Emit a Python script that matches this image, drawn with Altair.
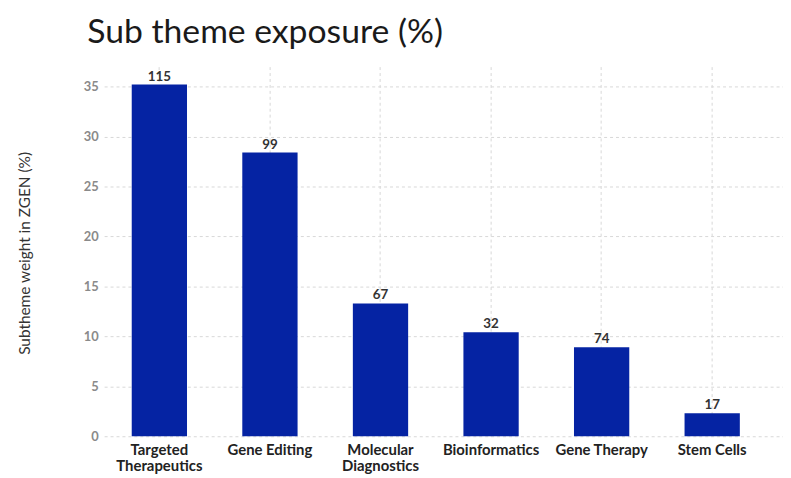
import altair as alt
import pandas as pd

categories = ["Targeted|Therapeutics", "Gene Editing", "Molecular|Diagnostics",
              "Bioinformatics", "Gene Therapy", "Stem Cells"]
weights = [35.2, 28.4, 13.3, 10.4, 8.9, 2.3]
counts = [115, 99, 67, 32, 74, 17]
y_ticks = [0, 5, 10, 15, 20, 25, 30, 35]

df = pd.DataFrame({"cat": categories, "w": weights, "n": counts})

FONT = "Lato"

x = alt.X("cat:N", sort=categories, title=None,
          scale=alt.Scale(paddingInner=0.5, paddingOuter=0.32, align=0.39),
          axis=alt.Axis(labelAngle=0, labelExpr="split(datum.label, '|')",
                        labelFont=FONT, labelFontSize=15, labelFontWeight="bold",
                        labelColor="#222", labelPadding=6, labelLineHeight=17,
                        ticks=False, domain=False, grid=True,
                        gridColor="#d8d8d8", gridDash=[3, 3]))
y = alt.Y("w:Q", title="Subtheme weight in ZGEN (%)",
          scale=alt.Scale(domain=[0, 37], nice=False),
          axis=alt.Axis(values=y_ticks, labelFont=FONT, labelFontSize=13,
                        labelFontWeight="bold", labelColor="#8a8a8a", labelPadding=6,
                        ticks=False, domain=False, grid=True,
                        gridColor="#d8d8d8", gridDash=[3, 3],
                        titleFont=FONT, titleFontSize=15.5, titleFontWeight="normal",
                        titleColor="#333", titleX=-80, titleY=188, titleAngle=-90,
                        titleAlign="center", titleBaseline="middle"))

bars = alt.Chart(df).mark_bar(color="#0523A3").encode(x=x, y=y)
labels = alt.Chart(df).mark_text(baseline="bottom", dy=-1, font=FONT, fontSize=13.5,
                                 fontWeight="bold", color="#333").encode(
    x=alt.X("cat:N", sort=categories), y="w:Q", text="n:Q")

chart = (bars + labels).properties(
    width=685, height=373,
    autosize=alt.AutoSizeParams(type="none"),
    padding={"left": 97, "top": 57, "right": 0, "bottom": 40},
    title=alt.TitleParams("Sub theme exposure (%)", anchor="start", frame="group",
                          font=FONT, fontSize=34, fontWeight="normal", color="#1a1a1a",
                          dx=-17, offset=17),
).configure_view(stroke=None)

chart.save("out.html", embed_options={"renderer": "svg", "actions": False})
